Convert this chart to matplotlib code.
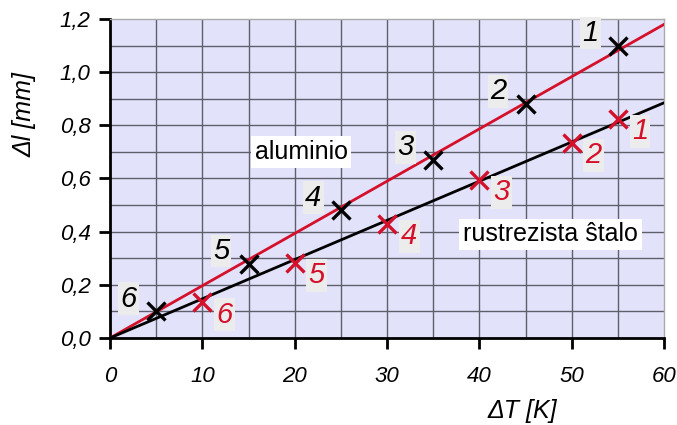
import matplotlib.pyplot as plt
import numpy as np

plt.rcParams['font.family'] = ['Liberation Sans', 'DejaVu Sans']

# aluminio (black crosses, red line)
al_x = [5, 15, 25, 35, 45, 55]
al_y = [0.10, 0.28, 0.48, 0.67, 0.88, 1.10]
al_lab = ['6', '5', '4', '3', '2', '1']
al_line_x = [0, 60]
al_line_y = [0, 1.18]

# rustrezista stalo (red crosses, black line)
st_x = [10, 20, 30, 40, 50, 55]
st_y = [0.135, 0.283, 0.43, 0.595, 0.735, 0.825]
st_lab = ['6', '5', '4', '3', '2', '1']
st_line_x = [0, 60]
st_line_y = [0, 0.885]

red = '#d4102a'

fig = plt.figure(figsize=(6.77, 4.25), dpi=100)
ax = fig.add_axes([0.1625, 0.2047, 0.8185, 0.7506])
ax.set_facecolor('#e2e2fa')

# grid
for gx in np.arange(5, 60, 5):
    ax.axvline(gx, color='#5f5f6c', lw=1.0, zorder=1)
for gy in np.arange(0.1, 1.2, 0.1):
    ax.axhline(gy, color='#5f5f6c', lw=1.0, zorder=1)

ax.plot(al_line_x, al_line_y, color=red, lw=2, zorder=3)
ax.plot(st_line_x, st_line_y, color='black', lw=2, zorder=3)
ax.plot(al_x, al_y, 'x', color='black', ms=12.5, mew=2.4, zorder=4)
ax.plot(st_x, st_y, 'x', color=red, ms=12.5, mew=2.4, zorder=4)

bb_gray = dict(boxstyle='square,pad=0.08', fc='#ececec', ec='none')
for x, y, t in zip(al_x, al_y, al_lab):
    ax.annotate(t, (x, y), xytext=(-14, -1), textcoords='offset points',
                ha='right', va='bottom', fontsize=21, style='italic',
                color='black', bbox=bb_gray, zorder=5)
for x, y, t in zip(st_x, st_y, st_lab):
    ax.annotate(t, (x, y), xytext=(10, 1), textcoords='offset points',
                ha='left', va='top', fontsize=21, style='italic',
                color=red, bbox=bb_gray, zorder=5)

bb_white = dict(boxstyle='square,pad=0.15', fc='white', ec='none')
ax.text(20.7, 0.70, 'aluminio', fontsize=18, ha='center', va='center',
        bbox=bb_white, zorder=5)
ax.text(47.7, 0.39, 'rustrezista ŝtalo', fontsize=18, ha='center', va='center',
        bbox=bb_white, zorder=5)

ax.set_xlim(0, 60)
ax.set_ylim(0, 1.2)
ax.set_xticks(range(0, 61, 10))
ax.set_xticklabels([str(v) for v in range(0, 61, 10)], style='italic', fontsize=16)
yt = [0.0, 0.2, 0.4, 0.6, 0.8, 1.0, 1.2]
ax.set_yticks(yt)
ax.set_yticklabels([('%.1f' % v).replace('.', ',') for v in yt], style='italic', fontsize=16)
ax.tick_params(axis='x', direction='out', length=8, width=2, pad=12)
ax.tick_params(axis='y', direction='out', length=8, width=2, pad=6)

for s in ['left', 'bottom']:
    ax.spines[s].set_linewidth(2)
    ax.spines[s].set_color('black')
for s in ['top', 'right']:
    ax.spines[s].set_linewidth(1)
    ax.spines[s].set_color('#aaaaaa')

ax.set_xlabel('ΔT [K]', style='italic', fontsize=18)
ax.xaxis.set_label_coords(0.744, -0.19)
ax.set_ylabel('Δl [mm]', style='italic', fontsize=18)
ax.yaxis.set_label_coords(-0.132, 0.702)

fig.savefig('out.png', dpi=100)
